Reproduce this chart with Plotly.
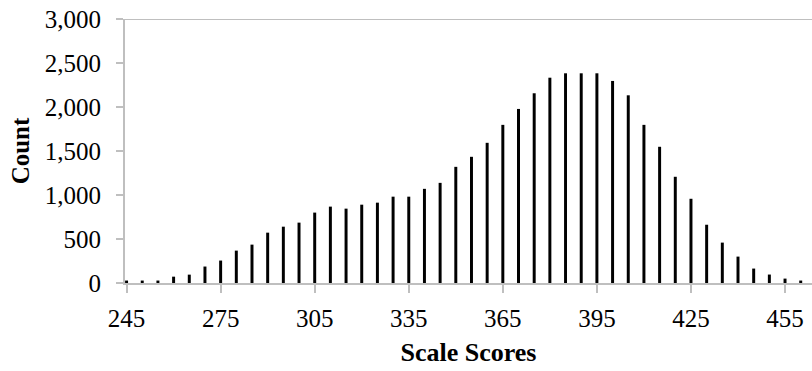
import plotly.graph_objects as go

scores = list(range(245, 461, 5))
counts = [28, 28, 28, 72, 95, 187, 255, 368, 436, 572, 640, 686, 800, 868, 845, 890, 913, 981,
          981, 1070, 1138, 1320, 1434, 1593, 1797, 1978, 2156, 2333, 2383, 2383, 2383, 2296, 2133,
          1797, 1548, 1207, 957, 662, 459, 300, 164, 96, 50, 28]
x_ticks = [245, 275, 305, 335, 365, 395, 425, 455]
y_ticks = [0, 500, 1000, 1500, 2000, 2500, 3000]

GRAY = "#bfbfbf"
FONT = "Liberation Serif"

fig = go.Figure(go.Bar(x=scores, y=counts, width=0.95, marker=dict(color="black", line=dict(width=0))))

fig.update_layout(
    width=812, height=371,
    margin=dict(l=125, r=0, t=19, b=88),
    plot_bgcolor="white", paper_bgcolor="white",
    showlegend=False,
    font=dict(family=FONT, size=26, color="black"),
    xaxis=dict(
        range=[244.5, 463.6],
        tickvals=x_ticks,
        ticks="outside", ticklen=8, tickwidth=2, tickcolor=GRAY,
        showline=True, linecolor=GRAY, linewidth=2,
        showgrid=False, zeroline=False, automargin=False,
        tickfont=dict(family=FONT, size=25),
        ticklabelstandoff=4,
        title=dict(text="<b>Scale Scores</b>", font=dict(family=FONT, size=26), standoff=12),
    ),
    yaxis=dict(
        range=[0, 3000],
        tickvals=y_ticks,
        tickformat=",",
        ticks="outside", ticklen=7, tickwidth=2, tickcolor=GRAY,
        showline=True, linecolor=GRAY, linewidth=2,
        showgrid=False, zeroline=False, automargin=False,
        tickfont=dict(family=FONT, size=25),
        ticklabelstandoff=10,
        title=dict(text="<b>Count</b>", font=dict(family=FONT, size=25), standoff=8),
    ),
    shapes=[dict(type="line", xref="paper", yref="y", x0=0, x1=1, y0=3000, y1=3000,
                 line=dict(color=GRAY, width=2))],
)

fig.write_html("out.html", config={"displayModeBar": False},
               post_script="document.body.style.margin='0';document.body.style.overflow='hidden';")
